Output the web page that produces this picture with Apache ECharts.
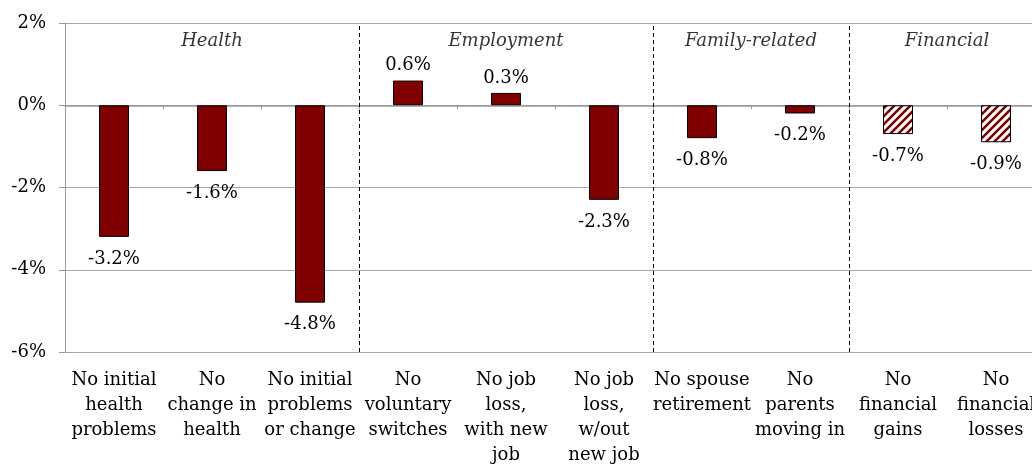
<!DOCTYPE html>
<html>
<head>
<meta charset="utf-8">
<script src="https://cdn.jsdelivr.net/npm/echarts@6/dist/echarts.min.js"></script>
<style>
  html, body { margin: 0; padding: 0; background: #fff; overflow: hidden; }
  /* the plot area runs a little past the right edge of the window, as in the original */
  #chart { width: 1045px; height: 465px; }
</style>
</head>
<body>
<div id="chart"></div>
<script>
// category labels (wrapped as in the original)
const categories = [
  'No initial\nhealth\nproblems',
  'No\nchange in\nhealth',
  'No initial\nproblems\nor change',
  'No\nvoluntary\nswitches',
  'No job\nloss,\nwith new\njob',
  'No job\nloss,\nw/out\nnew job',
  'No spouse\nretirement',
  'No\nparents\nmoving in',
  'No\nfinancial\ngains',
  'No\nfinancial\nlosses'
];
// effect in percent
const values = [-3.2, -1.6, -4.8, 0.6, 0.3, -2.3, -0.8, -0.2, -0.7, -0.9];
const hatched = [false, false, false, false, false, false, false, false, true, true];

// groups: name, centre and right boundary in category units
const groupNames = ['Health', 'Employment', 'Family-related', 'Financial'];
const groupCenters = [1.5, 4.5, 7, 9];
const groupBounds = [3, 6, 8];
const groupLabelY = 1.55;

const yMin = -6, yMax = 2, yStep = 2;

const FONT = 'DejaVu Serif';
const RED = '#7f0000';

// hatch pattern for the financial bars
function hatch() {
  var c = document.createElement('canvas');
  c.width = 8; c.height = 8;
  var g = c.getContext('2d');
  g.fillStyle = '#fff';
  g.fillRect(0, 0, 8, 8);
  g.strokeStyle = RED;
  g.lineWidth = 2.6;
  g.beginPath();
  g.moveTo(-2, 10); g.lineTo(10, -2);
  g.moveTo(-2, 2); g.lineTo(2, -2);
  g.moveTo(6, 10); g.lineTo(10, 6);
  g.stroke();
  return { image: c, repeat: 'repeat' };
}
const hatchFill = hatch();

const barData = values.map(function (v, i) {
  return {
    value: v,
    itemStyle: { color: hatched[i] ? hatchFill : RED },
    label: { position: v < 0 ? 'bottom' : 'top', distance: v < 0 ? 13 : 6 }
  };
});

var chart = echarts.init(document.getElementById('chart'));
chart.setOption({
  animation: false,
  textStyle: { fontFamily: FONT },
  grid: { left: 65, right: 0, top: 23, bottom: 113, outerBoundsMode: 'none', containLabel: false },
  xAxis: [
    {
      type: 'category',
      data: categories,
      position: 'bottom',
      axisLine: { show: false, onZero: false },
      axisTick: { show: false },
      axisLabel: {
        interval: 0, margin: 16, color: '#000',
        fontFamily: FONT, fontSize: 18, lineHeight: 25
      }
    },
    {
      type: 'category',
      data: categories,
      position: 'bottom',
      axisLine: { onZero: true, onZeroAxisIndex: 0, lineStyle: { color: '#999', width: 1.5 } },
      axisTick: { show: true, length: 4, lineStyle: { color: '#999' } },
      axisLabel: { show: false }
    },
    { type: 'value', min: 0, max: categories.length, show: false }
  ],
  yAxis: {
    type: 'value',
    min: yMin, max: yMax, interval: yStep,
    axisLine: { show: true, lineStyle: { color: '#999' } },
    axisTick: { show: true, length: 6, lineStyle: { color: '#999' } },
    axisLabel: {
      formatter: '{value}%', color: '#000',
      fontFamily: FONT, fontSize: 18, margin: 19
    },
    splitLine: { lineStyle: { color: '#a6a6a6', width: 1 } }
  },
  series: [
    {
      type: 'bar',
      xAxisIndex: 0,
      data: barData,
      barWidth: 30,
      itemStyle: { borderColor: '#000', borderWidth: 1 },
      label: {
        show: true, color: '#000',
        fontFamily: FONT, fontSize: 18,
        formatter: function (p) { return p.value.toFixed(1) + '%'; }
      }
    },
    {
      type: 'scatter',
      xAxisIndex: 2,
      symbolSize: 0,
      data: groupCenters.map(function (x, i) { return { value: [x, groupLabelY], name: groupNames[i] }; }),
      label: {
        show: true, position: 'inside', color: '#000',
        fontFamily: FONT, fontSize: 18, fontStyle: 'italic',
        formatter: function (p) { return p.name; }
      },
      markLine: {
        silent: true,
        symbol: 'none',
        label: { show: false },
        lineStyle: { color: '#000', type: [4, 3], width: 1 },
        data: groupBounds.map(function (b) { return { xAxis: b }; })
      }
    }
  ]
});
</script>
</body>
</html>
